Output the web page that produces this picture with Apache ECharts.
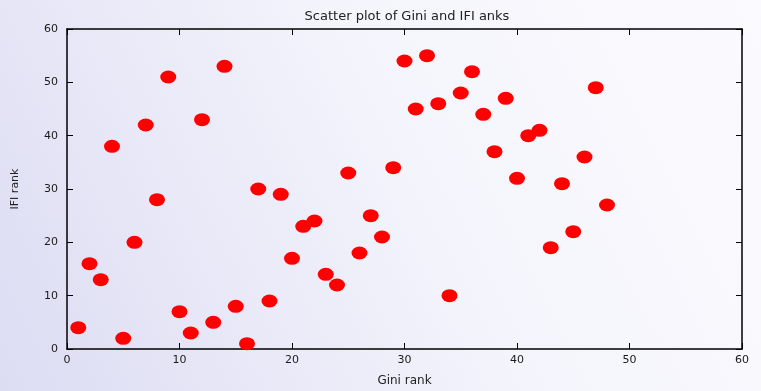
<!DOCTYPE html>
<html>
<head>
<meta charset="utf-8">
<style>
  html, body { margin: 0; padding: 0; }
  #chart { width: 761px; height: 391px; }
</style>
<script src="https://cdn.jsdelivr.net/npm/echarts@6/dist/echarts.min.js"></script>
</head>
<body>
<div id="chart"></div>
<script>
// Gini rank (x) and IFI rank (y)
const giniRank = [1, 2, 3, 4, 5, 6, 7, 8, 9, 10, 11, 12, 13, 14, 15, 16, 17, 18, 19, 20, 21, 22, 23, 24,
  25, 26, 27, 28, 29, 30, 31, 32, 33, 34, 35, 36, 37, 38, 39, 40, 41, 42, 43, 44, 45, 46, 47, 48];
const ifiRank = [4, 16, 13, 38, 2, 20, 42, 28, 51, 7, 3, 43, 5, 53, 8, 1, 30, 9, 29, 17, 23, 24, 14, 12,
  33, 18, 25, 21, 34, 54, 45, 55, 46, 10, 48, 52, 44, 37, 47, 32, 40, 41, 19, 31, 22, 36, 49, 27];

const chart = echarts.init(document.getElementById("chart"), null, { renderer: "canvas" });

const font = "DejaVu Sans, Verdana, sans-serif";
const lineStyle = { color: "#000", width: 1.5 };
const tick = { show: true, inside: true, length: 6, lineStyle: { color: "#000", width: 1 } };

function axisBase(extra) {
  return Object.assign(
    {
      type: "value",
      min: 0,
      max: 60,
      interval: 10,
      axisLine: { show: true, onZero: false, lineStyle },
      axisTick: tick,
      splitLine: { show: false },
      axisLabel: { color: "#1a1a1a", fontFamily: font, fontSize: 11 },
    },
    extra,
  );
}

chart.setOption({
  backgroundColor: {
    type: "linear",
    x: 0,
    y: 1,
    x2: 1,
    y2: 0,
    colorStops: [
      { offset: 0, color: "#dcdcf3" },
      { offset: 0.55, color: "#f4f4fc" },
      { offset: 1, color: "#fbfbfe" },
    ],
  },
  title: {
    text: "Scatter plot of Gini and IFI anks",
    left: 402,
    textAlign: "center",
    top: 5,
    textStyle: { color: "#222", fontFamily: font, fontSize: 13, fontWeight: "normal" },
  },
  grid: { left: 67, right: 19, top: 29, bottom: 42, outerBoundsMode: "none", containLabel: false },
  xAxis: [
    axisBase({
      position: "bottom",
      name: "Gini rank",
      nameLocation: "middle",
      nameGap: 26,
      nameTextStyle: { color: "#222", fontFamily: font, fontSize: 12 },
      axisLabel: { color: "#1a1a1a", fontFamily: font, fontSize: 11, margin: 6 },
    }),
    axisBase({ position: "top", axisLabel: { show: false } }),
  ],
  yAxis: [
    axisBase({
      position: "left",
      name: "IFI rank",
      nameLocation: "middle",
      nameGap: 46,
      nameTextStyle: { color: "#222", fontFamily: font, fontSize: 11 },
      axisLabel: { color: "#1a1a1a", fontFamily: font, fontSize: 11, margin: 9 },
    }),
    axisBase({ position: "right", axisLabel: { show: false } }),
  ],
  series: [
    {
      type: "scatter",
      data: giniRank.map((g, i) => [g, ifiRank[i]]),
      symbol: "circle",
      symbolSize: [16, 13],
      itemStyle: { color: "#ff0000", opacity: 1 },
      silent: true,
    },
  ],
  animation: false,
});
</script>
</body>
</html>
